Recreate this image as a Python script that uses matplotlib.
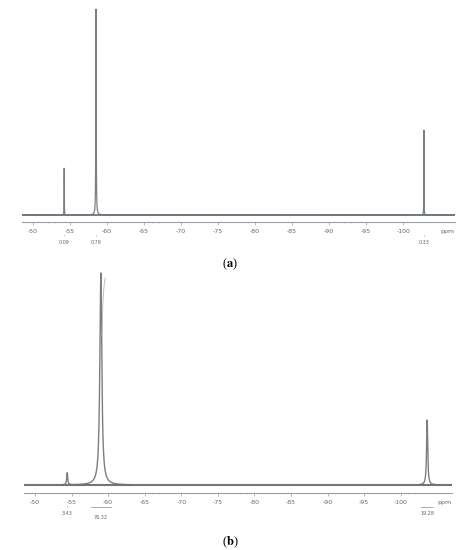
import matplotlib
matplotlib.use("Agg")
import matplotlib.pyplot as plt
import numpy as np

# shifts (ppm), heights and widths of each signal
shift_a = [-54.2, -58.5, -102.8]
height_a = [47, 206, 85]
width_a = [0.015, 0.03, 0.015]
integ_a = ["0.09", "0.79", "0.33"]

shift_b = [-54.4, -59.0, -103.6]
height_b = [12, 212, 65]
width_b = [0.08, 0.16, 0.09]
integ_b = ["3.43", "76.32", "19.28"]
bar_b = [0, 1.4, 0.8]   # half-length of the integral bar (ppm)

ticks = [-50, -55, -60, -65, -70, -75, -80, -85, -90, -95, -100]
tick_labels = ["-50", "-55", "-60", "-65", "-70", "-75", "-80", "-85", "-90", "-95", "-100"]

plt.rcParams['mathtext.fontset'] = 'stix'
line_col = "#7a7f85"

fig = plt.figure(figsize=(4.6, 5.5), dpi=100)
W, H = 460.0, 550.0


def spectrum(ax, shifts, heights, widths, lw):
    x = np.linspace(-48.5, -107, 20000)
    y = np.zeros_like(x)
    for s, h, w in zip(shifts, heights, widths):
        y += h * w**2 / ((x - s)**2 + w**2)
    ax.plot(x, y, color=line_col, lw=lw)


def style(ax, ylim):
    ax.set_xlim(-48.5, -107)
    ax.set_ylim(*ylim)
    for s in ["top", "left", "right"]:
        ax.spines[s].set_visible(False)
    ax.spines["bottom"].set_color("#9aa0a6")
    ax.spines["bottom"].set_linestyle((0, (3, 1)))
    ax.spines["bottom"].set_linewidth(0.8)
    ax.set_yticks([])
    ax.set_xticks(ticks)
    ax.set_xticklabels(tick_labels)
    ax.set_xticks(np.arange(-49, -107, -1), minor=True)
    ax.tick_params(axis="x", which="major", length=2, width=0.5, color="#9aa0a6",
                   labelsize=4.5, labelcolor="#666666", pad=3)
    ax.tick_params(axis="x", which="minor", length=1, width=0.4, color="#b0b5ba")
    ax.annotate("ppm", xy=(-106.0, ylim[0]), xytext=(0, -5), textcoords="offset points",
                ha="center", va="top", fontsize=4.5, color="#666666",
                annotation_clip=False)
    ax.set_facecolor("none")


# panel (a)
ax1 = fig.add_axes([22 / W, 1 - 222 / H, (455 - 22) / W, 222 / H])
spectrum(ax1, shift_a, height_a, width_a, 0.9)
ax1.plot([-48.5, -107], [0, 0], color="#6f747a", lw=1.3)
style(ax1, (-7, 215))
for s, t in zip(shift_a, integ_a):
    ax1.annotate(t, xy=(s, -7), xytext=(0, -13), textcoords="offset points",
                 ha="center", va="top", fontsize=3.5, color="#666666",
                 annotation_clip=False)
    ax1.annotate("'", xy=(s, -7), xytext=(0, -9), textcoords="offset points",
                 ha="center", va="top", fontsize=3.5, color="#888888",
                 annotation_clip=False)

# panel (b)
ax2 = fig.add_axes([24 / W, 1 - 493 / H, (452 - 24) / W, (493 - 245) / H])
spectrum(ax2, shift_b, height_b, width_b, 1.0)
# faint integral trace right of the big signal
ax2.plot([-59.15, -59.3, -59.45, -59.6], [150, 185, 200, 207], color="#b0b5ba", lw=0.6)
ax2.plot([-48.5, -107], [0, 0], color="#6f747a", lw=1.5)
style(ax2, (-8, 240))
for s, t, bar in zip(shift_b, integ_b, bar_b):
    ax2.annotate(t, xy=(s, -8), xytext=(0, -16 if bar > 1 else -13),
                 textcoords="offset points", ha="center", va="top",
                 fontsize=3.5, color="#666666", annotation_clip=False)
    if bar:
        ax2.plot([s - bar, s + bar], [-22, -22], color="#888888", lw=0.5, clip_on=False)
    else:
        ax2.annotate("'", xy=(s, -8), xytext=(0, -9), textcoords="offset points",
                     ha="center", va="top", fontsize=3.5, color="#888888",
                     annotation_clip=False)

fig.text(0.5, 1 - 264 / H, r"($\mathbf{a}$)", ha="center", va="center",
         fontsize=9, family="Liberation Serif")
fig.text(0.5, 1 - 542 / H, r"($\mathbf{b}$)", ha="center", va="center",
         fontsize=9, family="Liberation Serif")

fig.savefig("out.png", dpi=100, facecolor="white")
